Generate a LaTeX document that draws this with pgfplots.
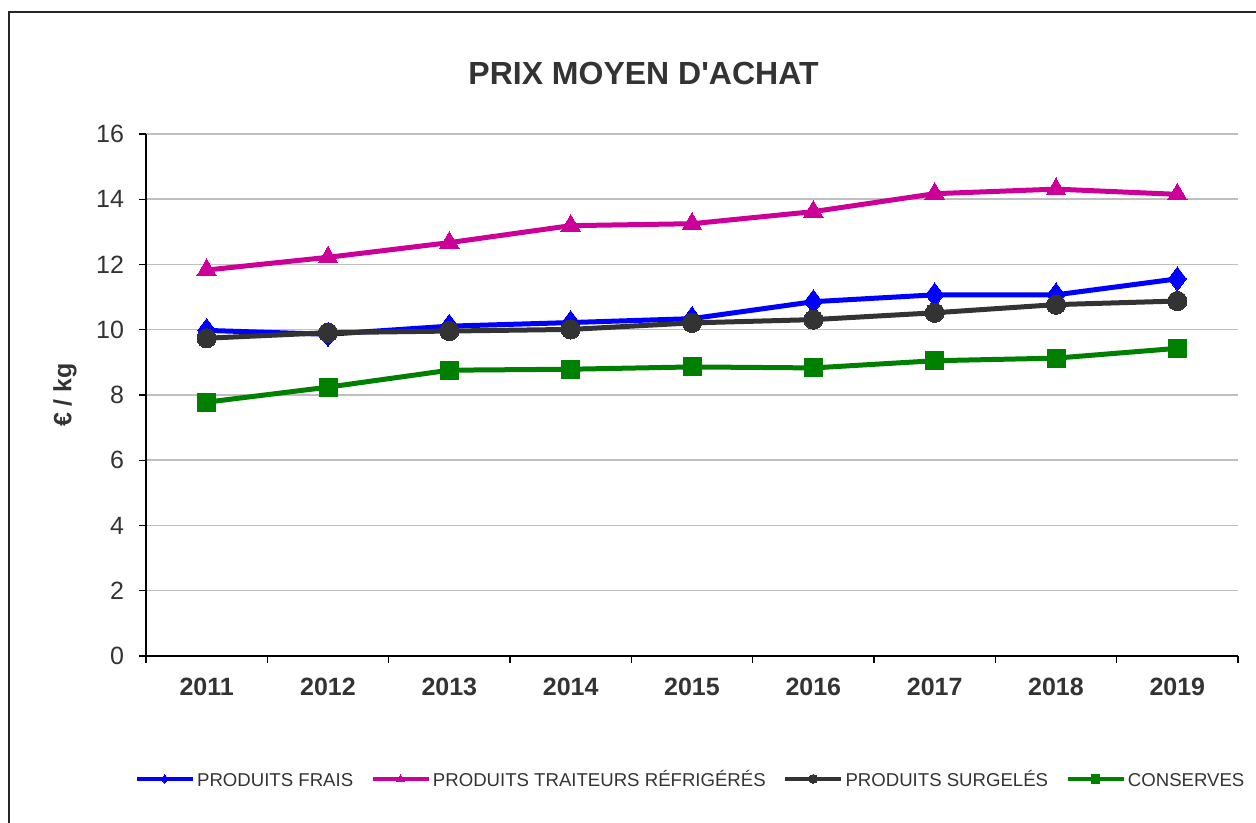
\documentclass[border=0pt]{standalone}
\usepackage{fontspec}
\setmainfont{Liberation Sans}
\newfontfamily\plainfont{Liberation Sans}
\usepackage{pgfplots}
\pgfplotsset{compat=1.18}
\definecolor{txt}{HTML}{333333}
\definecolor{cblue}{HTML}{0000FF}
\definecolor{cmag}{HTML}{CC0099}
\definecolor{cgrey}{HTML}{333333}
\definecolor{cgreen}{HTML}{008000}
\definecolor{gridc}{HTML}{BFBFBF}
\begin{document}
\begin{tikzpicture}
\useasboundingbox (0pt,0pt) rectangle (628pt,411.5pt);
\draw[line width=1pt, black!85] (4.5pt,0pt) -- (4.5pt,405.5pt) -- (628pt,405.5pt);
\node[font=\plainfont\bfseries\fontsize{16}{19}\selectfont, text=txt] at (321.75pt,375pt) {PRIX MOYEN D'ACHAT};
\begin{axis}[
  at={(73pt,83.5pt)}, anchor=south west,
  scale only axis, width=546pt, height=261pt,
  xmin=-0.5, xmax=8.5, ymin=0, ymax=16,
  ytick={0,2,...,16},
  axis x line*=bottom, axis y line*=left,
  axis line style={-, line width=0.6pt, black},
  xtick={-0.5,0.5,...,8.5}, xticklabels={},
  extra x ticks={0,1,2,3,4,5,6,7,8},
  extra x tick labels={2011,2012,2013,2014,2015,2016,2017,2018,2019},
  extra x tick style={tick style={draw=none}, tick label style={font=\bfseries\fontsize{12.5}{15}\selectfont, yshift=-4pt}},
  tick align=outside, major tick length=3.5pt,
  tick style={black, line width=0.6pt},
  ymajorgrids, grid style={gridc, line width=0.75pt},
  ticklabel style={text=txt, font=\fontsize{12.5}{15}\selectfont},
  yticklabel style={xshift=-4pt},
  /pgf/number format/assume math mode=true,
  ylabel={€ / kg},
  ylabel style={at={(axis description cs:-0.0742,0.5)}, anchor=center, font=\bfseries\fontsize{12.5}{15}\selectfont, text=txt},
  legend columns=4,
  legend style={at={(0.4985,-0.2355)}, anchor=center, draw=none, fill=none,
    font=\fontsize{9.3}{11}\selectfont, text=txt,
    /tikz/every even column/.append style={column sep=7.5pt},
    nodes={inner sep=1pt, text height=1.6ex, text depth=0.2ex}},
  legend image code/.code={\draw[mark repeat=2,mark phase=2,#1,mark size=2.2pt,line width=2.4pt] plot coordinates {(0pt,0pt)(14pt,0pt)(28pt,0pt)};},
]
\addplot[cblue, line width=2.5pt, mark=diamond*, mark size=6pt, mark options={line width=0pt}] coordinates {
(0,9.98) (1,9.86) (2,10.11) (3,10.22) (4,10.34) (5,10.86) (6,11.07) (7,11.07) (8,11.56)};
\addlegendentry{PRODUITS FRAIS}
\addplot[cmag, line width=2.5pt, mark=triangle*, mark size=5.6pt, mark options={line width=0pt}] coordinates {
(0,11.83) (1,12.22) (2,12.67) (3,13.19) (4,13.25) (5,13.62) (6,14.17) (7,14.31) (8,14.15)};
\addlegendentry{PRODUITS TRAITEURS RÉFRIGÉRÉS}
\addplot[cgrey, line width=2.5pt, mark=*, mark size=4.8pt, mark options={line width=0pt}] coordinates {
(0,9.74) (1,9.91) (2,9.96) (3,10.01) (4,10.21) (5,10.31) (6,10.52) (7,10.77) (8,10.88)};
\addlegendentry{PRODUITS SURGELÉS}
\addplot[cgreen, line width=2.5pt, mark=square*, mark size=4.5pt, mark options={line width=0pt}] coordinates {
(0,7.78) (1,8.24) (2,8.76) (3,8.79) (4,8.86) (5,8.83) (6,9.05) (7,9.13) (8,9.43)};
\addlegendentry{CONSERVES}
\end{axis}
\end{tikzpicture}
\end{document}
